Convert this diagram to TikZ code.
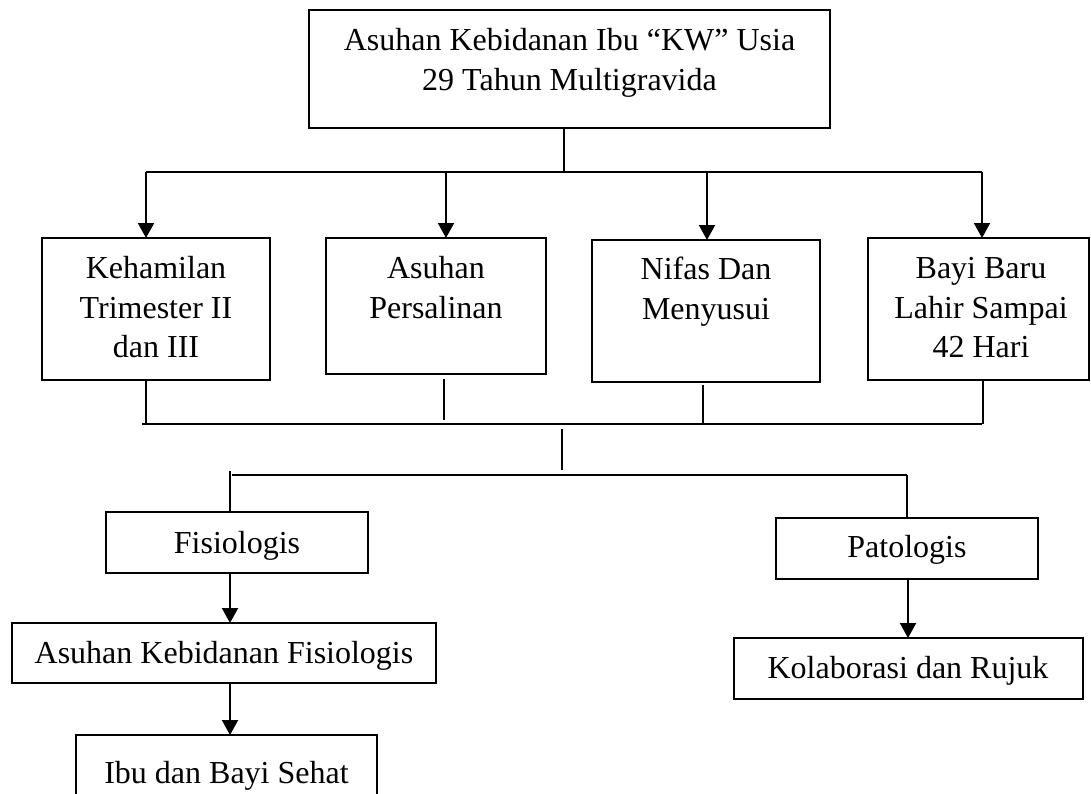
\documentclass[tikz,border=0pt]{standalone}
\usepackage{fontspec}
\setmainfont{Liberation Serif}
\usetikzlibrary{arrows.meta}
\newcommand{\mkbox}[5]{\node[box, minimum width={(#4-#2)*1pt}, minimum height={(#5-#3)*1pt}] (#1) at (#2,#3) {};}
\begin{document}
\begin{tikzpicture}[x=1pt,y=-1pt,
  box/.style={draw, line width=1.6pt, inner sep=0pt, outer sep=0pt, anchor=north west},
  txt/.style={anchor=base, inner sep=0pt, font=\fontsize{32}{40}\selectfont},
  ln/.style={line width=1.5pt},
  arr/.style={line width=2pt, -{Triangle[width=16pt,length=15pt]}}]
\clip (0,0) rectangle (1091,793);
% boxes
\mkbox{top}{309}{10}{830}{128}
\mkbox{b1}{42}{238}{270}{380}
\mkbox{b2}{326}{238}{546}{374}
\mkbox{b3}{592}{240}{820}{382}
\mkbox{b4}{868}{238}{1089}{380}
\mkbox{fis}{106}{512}{368}{573}
\mkbox{pat}{776}{518}{1038}{579}
\mkbox{akf}{12}{623}{436}{683}
\mkbox{ibu}{76}{735}{377}{820}
\mkbox{kol}{734}{638}{1083}{699}
% texts
\node[txt] (ttop1) at (569.5,50) {Asuhan Kebidanan Ibu “KW” Usia};
\node[txt] (ttop2) at (569.5,90) {29 Tahun Multigravida};
\node[txt] (tb1a) at (156,278) {Kehamilan};
\node[txt] (tb1b) at (156,318) {Trimester II};
\node[txt] (tb1c) at (156,357) {dan III};
\node[txt] (tb2a) at (436,278) {Asuhan};
\node[txt] (tb2b) at (436,318) {Persalinan};
\node[txt] (tb3a) at (706,279) {Nifas Dan};
\node[txt] (tb3b) at (706,319) {Menyusui};
\node[txt] (tb4a) at (981,278) {Bayi Baru};
\node[txt] (tb4b) at (981,318) {Lahir Sampai};
\node[txt] (tb4c) at (981,357) {42 Hari};
\node[txt] (tfis) at (237,553) {Fisiologis};
\node[txt] (tpat) at (907,557) {Patologis};
\node[txt] (takf) at (224,663) {Asuhan Kebidanan Fisiologis};
\node[txt] (tibu) at (226.5,783) {Ibu dan Bayi Sehat};
\node[txt] (tkol) at (908,678) {Kolaborasi dan Rujuk};
% coordinates
\coordinate (tj) at (564,172);
\coordinate (h1) at (146,172);
\coordinate (h2) at (446,172);
\coordinate (h3) at (707,172);
\coordinate (h4) at (982,172);
\coordinate (l1) at (146,424);
\coordinate (l2) at (444,420);
\coordinate (l3) at (703,424);
\coordinate (l4) at (983,424);
\coordinate (lb1) at (142,424);
\coordinate (lb2) at (982,424);
\coordinate (c1) at (562,429);
\coordinate (c2) at (562,470);
\coordinate (m1) at (232,475);
\coordinate (m2) at (907,475);
\coordinate (mf) at (230,471);
\coordinate (af) at (230,0);
\coordinate (ap) at (908,0);
% top connectors
\draw[ln] (top.south -| tj) -- (tj);
\draw[ln] (h1) -- (h4);
\draw[arr] (h1) -- (h1 |- b1.north);
\draw[arr] (h2) -- (h2 |- b2.north);
\draw[arr] (h3) -- (h3 |- b3.north);
\draw[arr] (h4) -- (h4 |- b4.north);
% lower bus
\draw[ln] (l1 |- b1.south) -- (l1);
\draw[ln, shorten <=5pt] (l2 |- b2.south) -- (l2);
\draw[ln, shorten <=3pt] (l3 |- b3.south) -- (l3);
\draw[ln] (l4 |- b4.south) -- (l4);
\draw[ln] (lb1) -- (lb2);
\draw[ln] (c1) -- (c2);
\draw[ln] (m1) -- (m2);
\draw[ln] (mf) -- (mf |- fis.north);
\draw[ln] (m2) -- (m2 |- pat.north);
% bottom arrows
\draw[arr] (af |- fis.south) -- (af |- akf.north);
\draw[arr] (af |- akf.south) -- (af |- ibu.north);
\draw[arr] (ap |- pat.south) -- (ap |- kol.north);
\end{tikzpicture}
\end{document}
